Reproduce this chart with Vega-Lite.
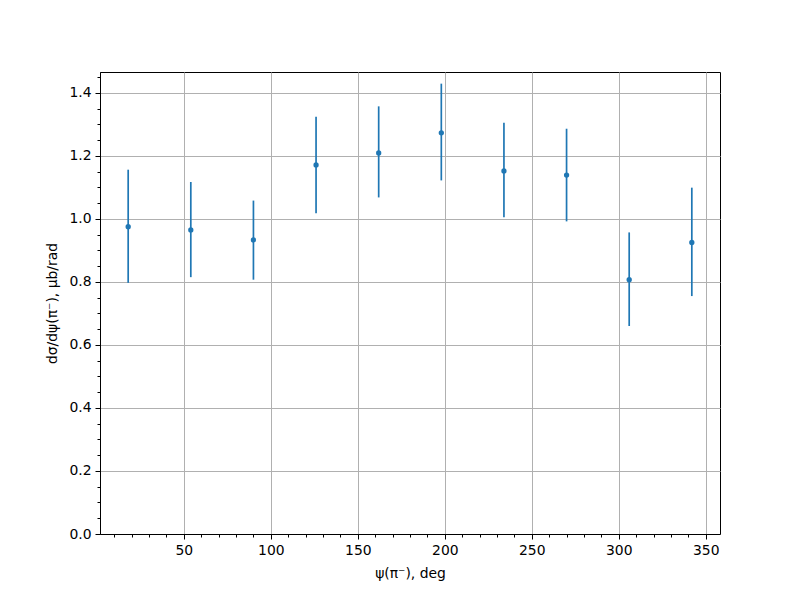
{
  "$schema": "https://vega.github.io/schema/vega-lite/v6.json",
  "autosize": "none",
  "width": 620,
  "height": 462,
  "padding": {"left": 100, "top": 72, "right": 80, "bottom": 66},
  "background": "white",
  "config": {
    "view": {"stroke": "black", "strokeWidth": 1},
    "font": "DejaVu Sans",
    "axis": {
      "labelFont": "DejaVu Sans",
      "titleFont": "DejaVu Sans",
      "labelFontSize": 13.9,
      "titleFontSize": 13.9,
      "titleFontWeight": "normal",
      "labelColor": "black",
      "titleColor": "black",
      "tickColor": "black",
      "domainColor": "black",
      "domainWidth": 1,
      "tickWidth": 1,
      "gridColor": "#b0b0b0",
      "gridWidth": 1
    }
  },
  "data": {
    "values": [
      {"psi": 18, "val": 0.975, "lo": 0.797, "hi": 1.156},
      {"psi": 54, "val": 0.965, "lo": 0.815, "hi": 1.117},
      {"psi": 90, "val": 0.933, "lo": 0.807, "hi": 1.058},
      {"psi": 126, "val": 1.171, "lo": 1.018, "hi": 1.324},
      {"psi": 162, "val": 1.209, "lo": 1.068, "hi": 1.357},
      {"psi": 198, "val": 1.273, "lo": 1.122, "hi": 1.429},
      {"psi": 234, "val": 1.152, "lo": 1.005, "hi": 1.305},
      {"psi": 270, "val": 1.139, "lo": 0.992, "hi": 1.286},
      {"psi": 306, "val": 0.807, "lo": 0.660, "hi": 0.957},
      {"psi": 342, "val": 0.925, "lo": 0.755, "hi": 1.099}
    ]
  },
  "layer": [
    {
      "mark": {"type": "rule", "color": "#1f77b4", "strokeWidth": 1.7},
      "encoding": {
        "x": {
          "field": "psi", "type": "quantitative",
          "scale": {"domain": [1.8, 358.2], "nice": false, "zero": false},
          "axis": {
            "orient": "bottom",
            "values": [50, 100, 150, 200, 250, 300, 350],
            "grid": true,
            "tickSize": 5,
            "labelPadding": 4,
            "title": "ψ(π⁻), deg",
            "titlePadding": 10
          }
        },
        "y": {
          "field": "lo", "type": "quantitative",
          "scale": {"domain": [0, 1.466], "nice": false},
          "axis": {
            "orient": "left",
            "values": [0, 0.2, 0.4, 0.6, 0.8, 1.0, 1.2, 1.4],
            "format": ".1f",
            "grid": true,
            "tickSize": 5,
            "labelPadding": 4,
            "title": "dσ/dψ(π⁻), μb/rad",
            "titlePadding": 9
          }
        },
        "y2": {"field": "hi"}
      }
    },
    {
      "mark": {"type": "circle", "color": "#1f77b4", "opacity": 1, "size": 28},
      "encoding": {
        "x": {
          "field": "psi", "type": "quantitative",
          "axis": {
            "orient": "bottom",
            "values": [10, 20, 30, 40, 60, 70, 80, 90, 110, 120, 130, 140, 160, 170, 180, 190, 210, 220, 230, 240, 260, 270, 280, 290, 310, 320, 330, 340],
            "labels": false,
            "grid": false,
            "domain": false,
            "tickSize": 3,
            "title": null
          }
        },
        "y": {
          "field": "val", "type": "quantitative",
          "axis": {
            "orient": "left",
            "values": [0.05, 0.1, 0.15, 0.25, 0.3, 0.35, 0.45, 0.5, 0.55, 0.65, 0.7, 0.75, 0.85, 0.9, 0.95, 1.05, 1.1, 1.15, 1.25, 1.3, 1.35, 1.45],
            "labels": false,
            "grid": false,
            "domain": false,
            "tickSize": 3,
            "title": null
          }
        }
      }
    }
  ],
  "resolve": {"axis": {"x": "independent", "y": "independent"}}
}
